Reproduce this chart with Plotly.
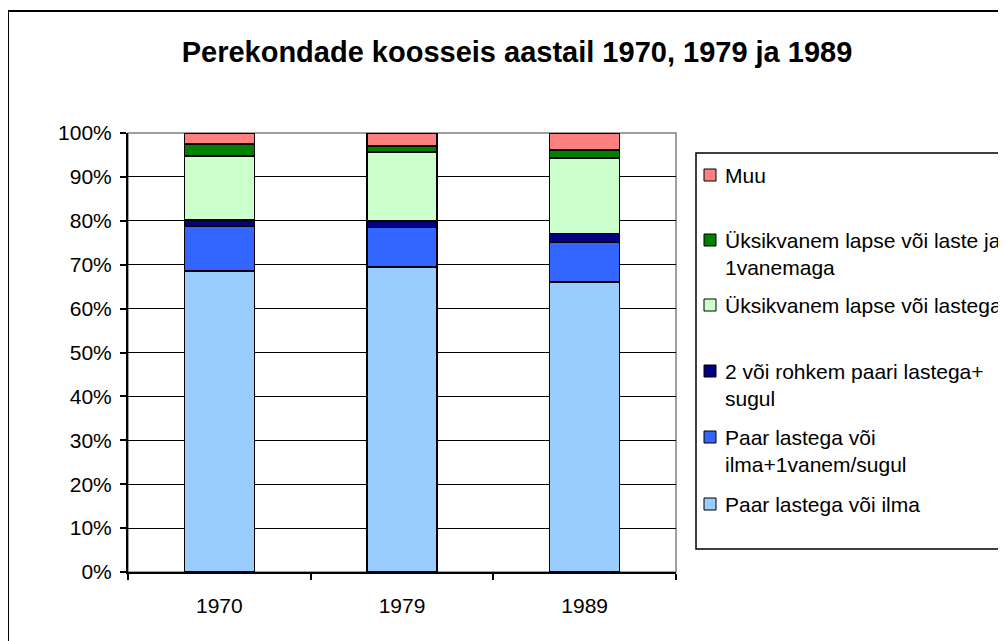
import plotly.graph_objects as go

years = ["1970", "1979", "1989"]

# series (percent), bottom to top
paar_ilma = [68.6, 69.5, 66.1]
paar_1vanem = [10.2, 9.0, 9.1]
kaks_paari = [1.4, 1.5, 1.9]
yksik_lastega = [14.6, 15.7, 17.2]
yksik_1vanemaga = [2.7, 1.3, 1.8]
muu = [2.5, 3.0, 3.9]

series_names = [
    "Paar lastega või ilma",
    "Paar lastega või ilma+1vanem/sugul",
    "2 või rohkem paari lastega+sugul",
    "Üksikvanem lapse või lastega",
    "Üksikvanem lapse või laste ja 1vanemaga",
    "Muu",
]
legend_labels = [
    "Paar lastega või ilma",
    "Paar lastega või<br>ilma+1vanem/sugul",
    "2 või rohkem paari lastega+<br>sugul",
    "Üksikvanem lapse või lastega",
    "Üksikvanem lapse või laste ja<br>1vanemaga",
    "Muu",
]
series_values = [paar_ilma, paar_1vanem, kaks_paari, yksik_lastega, yksik_1vanemaga, muu]
colors = ["#99CCFF", "#3366FF", "#000080", "#CCFFCC", "#008000", "#FF8080"]

OFF = 8  # page body margin
W, H = 1006 - OFF, 641 - OFF
# plot area in window pixels
L, R, T, B = 128, 676, 133, 572
FONT = "Liberation Sans, Arial, sans-serif"


def px(x):
    return (x - L) / (R - L)


def py(y):
    return (B - y) / (B - T)


fig = go.Figure()
for name, vals, col in zip(series_names, series_values, colors):
    fig.add_trace(go.Bar(
        x=years, y=vals, name=name, showlegend=False,
        marker=dict(color=col, line=dict(color="black", width=1.5)),
    ))

shapes = []
annotations = []
# outer chart frame
shapes.append(dict(type="rect", xref="paper", yref="paper",
                   x0=px(8), x1=px(1030), y0=py(11), y1=py(680),
                   line=dict(color="black", width=2), layer="below"))
# plot area border (gray)
shapes.append(dict(type="rect", xref="paper", yref="paper",
                   x0=0, x1=1, y0=0, y1=1,
                   line=dict(color="#808080", width=1.5), layer="below"))
# legend box
shapes.append(dict(type="rect", xref="paper", yref="paper",
                   x0=px(696), x1=px(1030), y0=py(153), y1=py(549),
                   line=dict(color="black", width=1.5), fillcolor="white"))

# legend entries (pixel y of first text line), top to bottom
legend_y = [175, 240, 305, 371, 437, 504]
order = list(range(len(series_names)))[::-1]
for ly, idx in zip(legend_y, order):
    shapes.append(dict(type="rect", xref="paper", yref="paper",
                       x0=px(704), x1=px(716), y0=py(ly - 6), y1=py(ly + 6),
                       fillcolor=colors[idx], line=dict(color="black", width=1)))
    annotations.append(dict(xref="paper", yref="paper", x=px(723), y=py(ly - 13),
                            xanchor="left", yanchor="top", align="left",
                            text=legend_labels[idx], showarrow=False,
                            font=dict(family=FONT, size=21, color="black")))

fig.update_layout(
    width=W, height=H,
    margin=dict(l=L - OFF, r=W - (R - OFF), t=T - OFF, b=H - (B - OFF), pad=0),
    paper_bgcolor="white", plot_bgcolor="white",
    barmode="stack", bargap=0.617,
    title=dict(text="<b>Perekondade koosseis aastail 1970, 1979 ja 1989</b>",
               x=(517 - OFF) / W, xanchor="center", xref="container",
               y=1 - (52 - OFF) / H, yanchor="middle", yref="container",
               font=dict(family=FONT, size=29, color="black")),
    font=dict(family=FONT, size=21, color="black"),
    shapes=shapes, annotations=annotations,
)
fig.update_yaxes(range=[0, 100], dtick=10, ticksuffix="%",
                 showgrid=True, gridcolor="black", gridwidth=1,
                 showline=True, linecolor="black", linewidth=2,
                 ticks="outside", ticklen=6, tickwidth=1.5, tickcolor="black",
                 ticklabelstandoff=4, zeroline=False,
                 tickfont=dict(family=FONT, size=21, color="black"))
fig.update_xaxes(type="category", tickson="boundaries",
                 showgrid=False, showline=True, linecolor="black", linewidth=2,
                 ticks="outside", ticklen=6, tickwidth=1.5, tickcolor="black",
                 ticklabelstandoff=14,
                 tickfont=dict(family=FONT, size=21, color="black"))

fig.write_html("out.html")
